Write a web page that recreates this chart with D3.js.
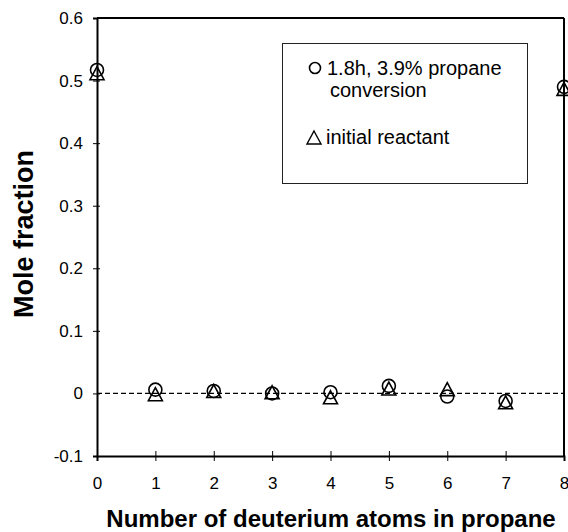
<!DOCTYPE html>
<html><head><meta charset="utf-8">
<script src="https://cdn.jsdelivr.net/npm/d3@7"></script>
<style>body{margin:0;background:#fff;} svg{display:block;font-family:"Liberation Sans",Arial,sans-serif;}</style>
</head><body>
<script>
const atoms = [0,1,2,3,4,5,6,7,8];
const reacted = [0.517,0.006,0.004,0.000,0.002,0.012,-0.005,-0.012,0.490];
const initial = [0.511,-0.002,0.003,0.001,-0.007,0.007,0.006,-0.015,0.486];
const yTicks = [-0.1,0,0.1,0.2,0.3,0.4,0.5,0.6];
const yTickLabels = ["-0.1","0","0.1","0.2","0.3","0.4","0.5","0.6"];
const xTicks = [0,1,2,3,4,5,6,7,8];
const legendLabels = [["1.8h, 3.9% propane","conversion"],["initial reactant"]];

const W=568,H=532;
const svg=d3.select("body").append("svg").attr("width",W).attr("height",H);
const x=d3.scaleLinear().domain([0,8]).range([97,564]);
const y=d3.scaleLinear().domain([-0.1,0.6]).range([456,18]);

// zero dashed line
svg.append("line").attr("x1",x(0)).attr("x2",x(8)).attr("y1",y(0)).attr("y2",y(0))
  .attr("stroke","#000").attr("stroke-width",1.3).attr("stroke-dasharray","5,3");

// frame
svg.append("line").attr("x1",x(0)).attr("x2",x(8)).attr("y1",y(0.6)).attr("y2",y(0.6)).attr("stroke","#000").attr("stroke-width",2);
svg.append("line").attr("x1",x(8)).attr("x2",x(8)).attr("y1",y(0.6)).attr("y2",y(-0.1)).attr("stroke","#000").attr("stroke-width",2);

// y axis
const ya=svg.append("g").attr("transform",`translate(${x(0)},0)`)
  .call(d3.axisLeft(y).tickValues(yTicks).tickSize(4).tickPadding(10).tickFormat((d,i)=>yTickLabels[i]));
ya.select(".domain").attr("stroke-width",2);
ya.selectAll(".tick line").attr("x2",-4).attr("x1",3).attr("stroke-width",1);
ya.selectAll("text").attr("font-size",17).attr("font-family","Liberation Sans, Arial, sans-serif").attr("fill","#000");

// x axis
const xa=svg.append("g").attr("transform",`translate(0,${y(-0.1)})`)
  .call(d3.axisBottom(x).tickValues(xTicks).tickSize(5).tickPadding(16).tickFormat(d3.format("d")));
xa.select(".domain").attr("stroke-width",2);
xa.selectAll(".tick line").attr("y1",-5).attr("y2",5).attr("stroke-width",1);
xa.selectAll("text").attr("font-size",17).attr("font-family","Liberation Sans, Arial, sans-serif").attr("fill","#000");

// titles
svg.append("text").attr("x",331).attr("y",527).attr("text-anchor","middle")
  .attr("font-size",24).attr("font-weight","bold").text("Number of deuterium atoms in propane");
svg.append("text").attr("transform",`translate(33,234) rotate(-90)`).attr("text-anchor","middle")
  .attr("font-size",27).attr("font-weight","bold").text("Mole fraction");

function triPath(cx,cy){ // upward triangle
  const s=14,h=12;
  return `M${cx},${cy-h/2-1}L${cx+s/2},${cy+h/2}L${cx-s/2},${cy+h/2}Z`;
}
// markers
svg.append("g").selectAll("circle").data(atoms).join("circle")
  .attr("cx",d=>x(d)).attr("cy",(d,i)=>y(reacted[i])).attr("r",6.5)
  .attr("fill","none").attr("stroke","#000").attr("stroke-width",1.6);
svg.append("g").selectAll("path").data(atoms).join("path")
  .attr("d",(d,i)=>triPath(x(d),y(initial[i])))
  .attr("fill","none").attr("stroke","#000").attr("stroke-width",1.6);

// legend
svg.append("rect").attr("x",282.5).attr("y",43.5).attr("width",245).attr("height",140)
  .attr("fill","#fff").attr("stroke","#222").attr("stroke-width",1);
svg.append("circle").attr("cx",315).attr("cy",68).attr("r",5.5).attr("fill","none").attr("stroke","#000").attr("stroke-width",1.6);
svg.append("path").attr("d",`M314,131L321,144L307,144Z`).attr("fill","none").attr("stroke","#000").attr("stroke-width",1.4);
const lt=svg.append("g").attr("font-size",20).attr("fill","#000");
lt.append("text").attr("x",327).attr("y",75).text(legendLabels[0][0]);
lt.append("text").attr("x",330).attr("y",97).text(legendLabels[0][1]);
lt.append("text").attr("x",326).attr("y",144).text(legendLabels[1][0]);
</script>
</body></html>
